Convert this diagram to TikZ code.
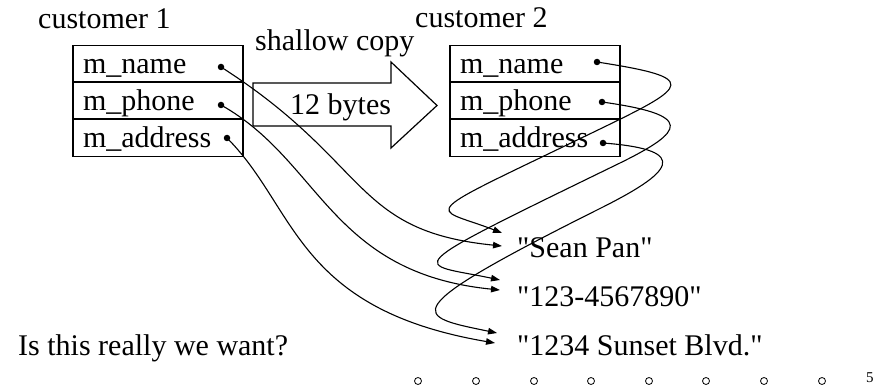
\documentclass[tikz,border=0pt]{standalone}
\usepackage{fontspec}
\setmainfont{Liberation Serif}[Ligatures=TeXOff]
\usetikzlibrary{arrows.meta}
\begin{document}
\begin{tikzpicture}[x=1pt,y=-1pt,
  every node/.style={font=\fontsize{30}{36}\selectfont},
  txt/.style={anchor=base west, inner sep=0pt},
  row/.style={draw, line width=1.2pt, minimum width=170pt, minimum height=37pt,
    text width=150pt, align=left, inner xsep=10pt, inner ysep=0pt,
    text height=21pt, text depth=1pt},
  dot/.style={circle, fill=black, inner sep=0pt, minimum size=6.5pt},
  conn/.style={line width=1.1pt, -{Triangle[length=9pt,width=6.5pt]}},
  foot/.style={circle, draw, line width=0.8pt, inner sep=0pt, minimum size=7pt}
]
\useasboundingbox (0,0) rectangle (874,387);

% titles
\node[txt] (cust1) at (38,29) {customer 1};
\node[txt] (cust2) at (415,28) {customer 2};
\node[txt] (shallow) at (255,51) {shallow copy};

% customer 1 box
\node[row] (c1n) at (158,64)   {m\_name};
\node[row] (c1p) at (158,100.5){m\_phone};
\node[row] (c1a) at (158,138)  {m\_address};
% customer 2 box
\node[row] (c2n) at (535,64)   {m\_name};
\node[row] (c2p) at (535,100.5){m\_phone};
\node[row] (c2a) at (535,138)  {m\_address};

% copy arrow
\draw[line width=1.2pt] (253,83) -- (391,83) -- (391,62) -- (437,105.5)
  -- (391,148) -- (391,126) -- (253,126) -- cycle;
\node[txt] (bytes) at (290,115) {12 bytes};

% pointer dots
\node[dot] (a1) at (221,67) {};
\node[dot] (a2) at (221,105) {};
\node[dot] (a3) at (227,138) {};
\node[dot] (b1) at (597,62) {};
\node[dot] (b2) at (602,102) {};
\node[dot] (b3) at (603,143) {};

% strings
\node[txt] (s1) at (517,257) {"Sean Pan"};
\node[txt] (s2) at (517,306) {"123-4567890"};
\node[txt] (s3) at (517,355) {"1234 Sunset Blvd."};
\node[txt] (q) at (18,355) {Is this really we want?};

% arrow tip coordinates
\coordinate (t1a) at (502,246);
\coordinate (t2a) at (500,290);
\coordinate (t3a) at (495,343);
\coordinate (t1b) at (502,233);
\coordinate (t2b) at (500,280);
\coordinate (t3b) at (497,333);
\coordinate (m1) at (600,129);
\coordinate (m2) at (620,163);
\coordinate (m3) at (600,208.5);

% customer 1 pointers
\draw[conn] (a1.center) .. controls (371,163) and (352,231) .. (t1a);
\draw[conn] (a2.center) .. controls (321,161) and (330,273) .. (t2a);
\draw[conn] (a3.center) .. controls (297,208) and (295,309) .. (t3a);

% customer 2 pointers
\draw[conn] (b1.center) .. controls (700,78) and (690,85.5) .. (m1)
  .. controls (410,221) and (430,205) .. (t1b);
\draw[conn] (b2.center) .. controls (695,115) and (685,131) .. (m2)
  .. controls (390,275) and (415,262) .. (t2b);
\draw[conn] (b3.center) .. controls (695,150) and (670,173.5) .. (m3)
  .. controls (390,313.5) and (415,316) .. (t3b);

% footer
\foreach \i/\xx in {1/418,2/476,3/534,4/591,5/649,6/706,7/764,8/822}
  \node[foot] (f\i) at (\xx,381) {};
\node[txt, font=\fontsize{15}{18}\selectfont] (pg) at (866,382) {5};
\end{tikzpicture}
\end{document}
